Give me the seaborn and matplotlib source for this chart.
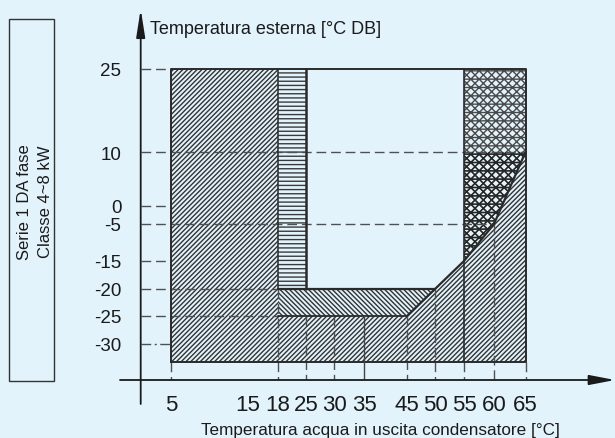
import numpy as np
import matplotlib
matplotlib.use("Agg")
import matplotlib.pyplot as plt
from matplotlib.patches import Rectangle
import seaborn as sns
import pandas as pd

# ---------------- data ----------------
X_TICKS = [5, 15, 18, 25, 30, 35, 45, 50, 55, 60, 65]
Y_TICKS = [25, 10, 0, -5, -15, -20, -25, -30]
T_MIN = -35  # schematic lower bound of the envelope

heat_x = [5, 5, 18, 18, 45, 50, 55, 60, 65, 65]
heat_y = [T_MIN, 25, 25, -25, -25, -20, -15, -5, 10, T_MIN]
boost_x = [18, 18, 25, 25]
boost_y = [-20, 25, 25, -20]
band_x = [18, 45, 50, 18]
band_y = [-25, -25, -20, -20]
limit_x = [45, 50, 55, 60, 65]
limit_y = [-25, -20, -15, -5, 10]
backup_x = [55, 55, 65, 65, 60]
backup_y = [-15, 25, 25, 10, -5]
backup_low_x = [55, 55, 65, 60]
backup_low_y = [-15, 10, 10, -5]

# ---------------- layout (schematic, non-linear axes) ----------------
W, H = 615, 439
X_KNOT_PX = [171, 248, 278, 306, 334, 364, 407, 435, 464, 494, 525.5]
Y_KNOT_VAL = [-35, -30, -25, -20, -15, -5, 0, 10, 25]
Y_KNOT_PX = [H - p for p in [363, 345, 317, 290, 262, 225, 207, 153, 70]]


def piecewise(xp, fp):
    xp = np.asarray(xp, float)
    fp = np.asarray(fp, float)
    s0 = (fp[1] - fp[0]) / (xp[1] - xp[0])
    s1 = (fp[-1] - fp[-2]) / (xp[-1] - xp[-2])

    def f(v):
        v = np.asarray(v, float)
        out = np.interp(v, xp, fp)
        out = np.where(v < xp[0], fp[0] + (v - xp[0]) * s0, out)
        out = np.where(v > xp[-1], fp[-1] + (v - xp[-1]) * s1, out)
        return out
    return f


fx, ix = piecewise(X_TICKS, X_KNOT_PX), piecewise(X_KNOT_PX, X_TICKS)
fy, iy = piecewise(Y_KNOT_VAL, Y_KNOT_PX), piecewise(Y_KNOT_PX, Y_KNOT_VAL)

BG = "#E2F3FC"
DARK = "#2a2a2a"
DASH = "#505050"

sns.set_theme(style="white")
plt.rcParams["font.family"] = ["Liberation Sans", "DejaVu Sans"]
plt.rcParams["hatch.linewidth"] = 1.0

fig = plt.figure(figsize=(W / 100, H / 100), dpi=100)
fig.patch.set_facecolor(BG)

ax_l, ax_r, ax_b, ax_t = 140.7, 615, 381, 10
ax = fig.add_axes([ax_l / W, (H - ax_b) / H, (ax_r - ax_l) / W, (ax_b - ax_t) / H])
ax.set_facecolor(BG)
ax.set_xscale("function", functions=(fx, ix))
ax.set_yscale("function", functions=(fy, iy))
x0, x1 = float(ix(ax_l)), float(ix(ax_r))
y0, y1 = float(iy(H - ax_b)), float(iy(H - ax_t))
ax.set_xlim(x0, x1)
ax.set_ylim(y0, y1)
for s in ax.spines.values():
    s.set_visible(False)

# hatched regions
ax.fill(heat_x, heat_y, facecolor="none", edgecolor="#333333", hatch="/" * 7, linewidth=0, zorder=1)
ax.fill(band_x, band_y, facecolor="none", edgecolor="#333333", hatch="\\" * 7, linewidth=0, zorder=1)
ax.fill(boost_x, boost_y, facecolor="none", edgecolor="#3a3a3a", hatch="----", linewidth=0, zorder=1)
ax.fill(backup_x, backup_y, facecolor="none", edgecolor="#4a4a4a", hatch="////\\\\\\\\--", linewidth=0, zorder=1)
ax.fill(backup_low_x, backup_low_y, facecolor="none", edgecolor="#262626", hatch="////\\\\\\\\--", linewidth=0, zorder=1)

# solid boundaries
ax.plot([5, 5, 65, 65, 5], [T_MIN, 25, 25, T_MIN, T_MIN], color=DARK, lw=1.4, zorder=3)
ax.plot([18, 18], [-20, 25], color=DARK, lw=1.1, zorder=3)
ax.plot([25, 25], [-20, 25], color=DARK, lw=1.8, zorder=3)
ax.plot([18, 50], [-20, -20], color=DARK, lw=1.6, zorder=3)
ax.plot([18, 45], [-25, -25], color=DARK, lw=1.3, zorder=3)
ax.plot([55, 55], [T_MIN, 25], color=DARK, lw=1.2, zorder=3)
ax.plot([35, 35], [-25, y0], color="#444444", lw=1.0, zorder=3)
sns.lineplot(x=limit_x, y=limit_y, color=DARK, lw=1.6, ax=ax, zorder=3, sort=False, estimator=None)

# dashed reference lines
dash = dict(color=DASH, lw=1.0, ls=(0, (7, 3.5)), zorder=2)
h_ends = {25: 5, 10: 65, 0: 5, -5: 60, -15: 5, -20: 18, -25: 18}
for yv, xe in h_ends.items():
    ax.plot([x0, xe], [yv, yv], **dash)
ax.plot([x0, 5], [-30, -30], color=DASH, lw=1.0, ls=(0, (7, 2.5, 1.5, 2.5)), zorder=2)
v_starts = {5: T_MIN, 18: -20, 25: -25, 30: -25, 45: -25, 50: -20, 55: T_MIN, 60: -5, 65: T_MIN}
for xv, ys in v_starts.items():
    ax.plot([xv, xv], [ys, y0], **dash)

# axes with arrows
ax.annotate("", xy=(0, 1), xytext=(0, -(405 - ax_b) / (ax_b - ax_t)), xycoords="axes fraction",
            arrowprops=dict(arrowstyle="-|>,head_length=1.4,head_width=0.22", lw=1.3,
                            color="#1a1a1a", shrinkA=0, shrinkB=0))
ax.annotate("", xy=(1, 0), xytext=(-(ax_l - 120) / (ax_r - ax_l), 0), xycoords="axes fraction",
            arrowprops=dict(arrowstyle="-|>,head_length=1.3,head_width=0.25", lw=1.3,
                            color="#1a1a1a", shrinkA=0, shrinkB=0))

# ticks
ax.set_xticks(X_TICKS, [str(v) for v in X_TICKS])
ax.set_yticks(Y_TICKS, [str(v) for v in Y_TICKS])
ax.tick_params(axis="x", length=0, pad=10, labelsize=16, labelcolor="#1a1a1a")
ax.tick_params(axis="y", length=0, pad=14, labelsize=13.5, labelcolor="#1a1a1a")
ax.minorticks_off()

# axis titles
fig.text(150 / W, 1 - 29 / H, "Temperatura esterna [°C DB]", fontsize=13, ha="left", va="center", color="#1a1a1a")
fig.text(380 / W, 1 - 431 / H, "Temperatura acqua in uscita condensatore [°C]", fontsize=12.3,
         ha="center", va="center", color="#1a1a1a")

# left legend box
fig.patches.append(Rectangle((9 / W, 1 - 382 / H), 45 / W, 362 / H, transform=fig.transFigure,
                             facecolor="none", edgecolor="#333333", lw=1.0))
fig.text(35 / W, 1 - 202 / H, "Serie 1 DA fase\nClasse 4~8 kW", rotation=90, fontsize=12,
         ha="center", va="center", multialignment="center", linespacing=1.45, color="#1a1a1a")

fig.savefig("out.png", dpi=100, facecolor=BG)
